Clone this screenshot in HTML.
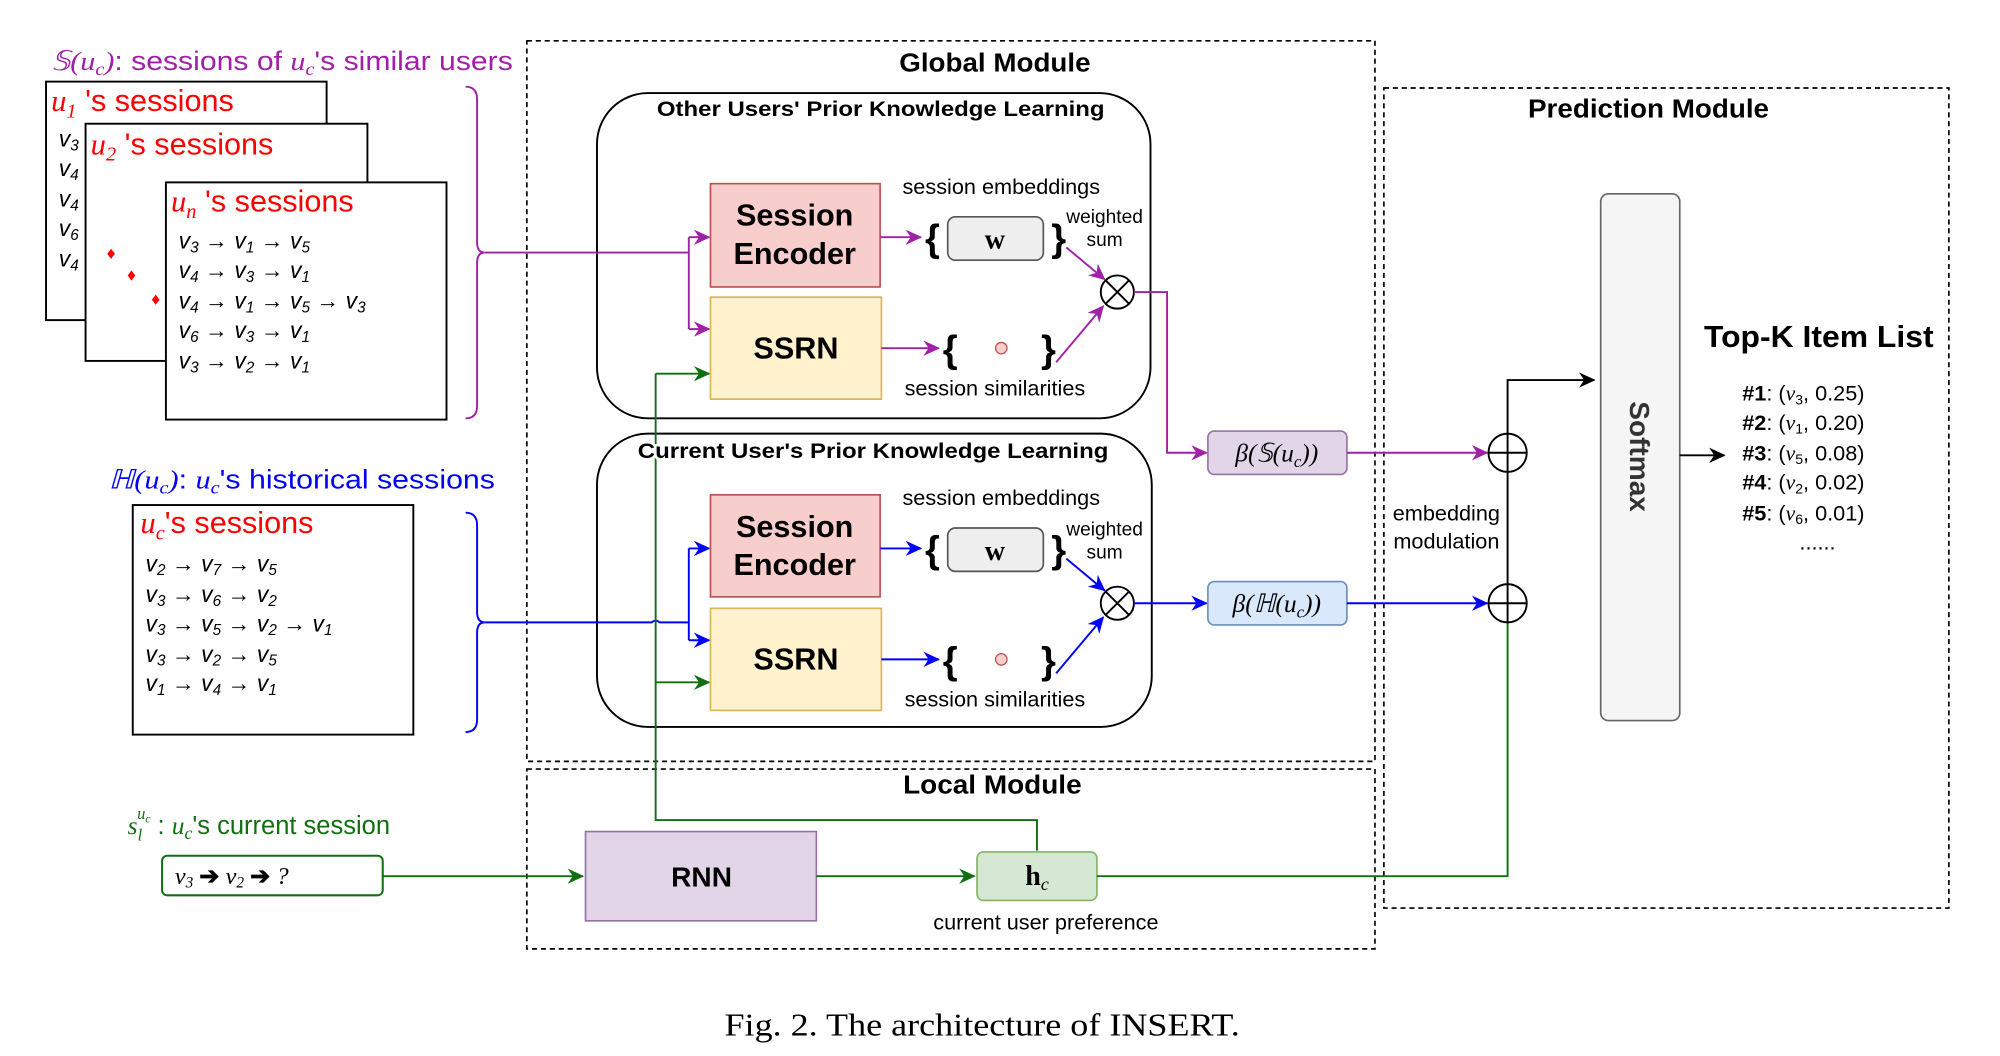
<!DOCTYPE html>
<html><head><meta charset="utf-8"><style>
html,body{margin:0;padding:0;background:#fff;}
svg{display:block;}
text{font-family:"Liberation Sans",sans-serif;}
.m{font-family:"Liberation Serif",serif;font-style:italic;}
.b{font-weight:bold;}
</style></head><body>
<svg width="2000" height="1056" viewBox="0 0 1568 828" xmlns="http://www.w3.org/2000/svg">
<defs>
<marker id="ap" markerWidth="13" markerHeight="12" refX="12" refY="6" orient="auto" markerUnits="userSpaceOnUse"><path d="M0,0 L13,6 L0,12 L4,6 z" fill="#a020a8"/></marker>
<marker id="ab" markerWidth="13" markerHeight="12" refX="12" refY="6" orient="auto" markerUnits="userSpaceOnUse"><path d="M0,0 L13,6 L0,12 L4,6 z" fill="#0000ff"/></marker>
<marker id="ag" markerWidth="13" markerHeight="12" refX="12" refY="6" orient="auto" markerUnits="userSpaceOnUse"><path d="M0,0 L13,6 L0,12 L4,6 z" fill="#107010"/></marker>
<marker id="ak" markerWidth="13" markerHeight="12" refX="12" refY="6" orient="auto" markerUnits="userSpaceOnUse"><path d="M0,0 L13,6 L0,12 L4,6 z" fill="#000"/></marker>
</defs>

<rect x="413" y="32" width="665" height="565" fill="none" stroke="#000" stroke-width="1.3" stroke-dasharray="4,3"/>
<rect x="413" y="603" width="665" height="141" fill="none" stroke="#000" stroke-width="1.3" stroke-dasharray="4,3"/>
<rect x="1085" y="69" width="443" height="643" fill="none" stroke="#000" stroke-width="1.3" stroke-dasharray="4,3"/>
<text x="705" y="56" font-size="20" class="b" textLength="150" lengthAdjust="spacingAndGlyphs">Global Module</text>
<text x="708" y="622" font-size="20" class="b" textLength="140" lengthAdjust="spacingAndGlyphs">Local Module</text>
<text x="1198" y="92" font-size="20" class="b" textLength="189" lengthAdjust="spacingAndGlyphs">Prediction Module</text>

<text x="40" y="55" font-size="21" fill="#a020a8" textLength="362" lengthAdjust="spacingAndGlyphs"><tspan class="m">𝕊(u<tspan font-size="14" dy="4">c</tspan><tspan dy="-4">)</tspan></tspan>: sessions of <tspan class="m">u<tspan font-size="14" dy="4">c</tspan></tspan><tspan dy="-4">'s similar users</tspan></text>
<rect x="36" y="64" width="220" height="187" fill="#fff" stroke="#000" stroke-width="1.5"/>
<text x="40" y="87" font-size="24" fill="#ff0000"><tspan class="m">u<tspan font-size="16" dy="5">1</tspan></tspan><tspan dy="-5"> 's sessions</tspan></text>
<g class="m" font-size="18"><text x="46" y="115">v<tspan font-size="12" dy="3">3</tspan></text><text x="46" y="138">v<tspan font-size="12" dy="3">4</tspan></text><text x="46" y="162">v<tspan font-size="12" dy="3">4</tspan></text><text x="46" y="185">v<tspan font-size="12" dy="3">6</tspan></text><text x="46" y="209">v<tspan font-size="12" dy="3">4</tspan></text></g>
<rect x="67" y="97" width="221" height="186" fill="#fff" stroke="#000" stroke-width="1.5"/>
<text x="71" y="121" font-size="24" fill="#ff0000"><tspan class="m">u<tspan font-size="16" dy="5">2</tspan></tspan><tspan dy="-5"> 's sessions</tspan></text>
<g fill="#ff0000"><path d="M87,195 l3,4 l-3,4 l-3,-4z"/><path d="M103,212 l3,4 l-3,4 l-3,-4z"/><path d="M122,231 l3,4 l-3,4 l-3,-4z"/></g>
<rect x="130" y="143" width="220" height="186" fill="#fff" stroke="#000" stroke-width="1.5"/>
<text x="134" y="166" font-size="24" fill="#ff0000"><tspan class="m">u<tspan font-size="16" dy="5">n</tspan></tspan><tspan dy="-5"> 's sessions</tspan></text>
<g class="m" font-size="18">
<text x="140" y="195">v<tspan font-size="12" dy="3">3</tspan><tspan dy="-3"> → v</tspan><tspan font-size="12" dy="3">1</tspan><tspan dy="-3"> → v</tspan><tspan font-size="12" dy="3">5</tspan></text>
<text x="140" y="218">v<tspan font-size="12" dy="3">4</tspan><tspan dy="-3"> → v</tspan><tspan font-size="12" dy="3">3</tspan><tspan dy="-3"> → v</tspan><tspan font-size="12" dy="3">1</tspan></text>
<text x="140" y="242">v<tspan font-size="12" dy="3">4</tspan><tspan dy="-3"> → v</tspan><tspan font-size="12" dy="3">1</tspan><tspan dy="-3"> → v</tspan><tspan font-size="12" dy="3">5</tspan><tspan dy="-3"> → v</tspan><tspan font-size="12" dy="3">3</tspan></text>
<text x="140" y="265">v<tspan font-size="12" dy="3">6</tspan><tspan dy="-3"> → v</tspan><tspan font-size="12" dy="3">3</tspan><tspan dy="-3"> → v</tspan><tspan font-size="12" dy="3">1</tspan></text>
<text x="140" y="289">v<tspan font-size="12" dy="3">3</tspan><tspan dy="-3"> → v</tspan><tspan font-size="12" dy="3">2</tspan><tspan dy="-3"> → v</tspan><tspan font-size="12" dy="3">1</tspan></text>
</g>
<path d="M365,68 Q374,68 374,78 L374,190 Q374,198 380,198 Q374,198 374,206 L374,318 Q374,328 365,328" fill="none" stroke="#a020a8" stroke-width="1.5"/>

<text x="85" y="383" font-size="21" fill="#0000ff" textLength="303" lengthAdjust="spacingAndGlyphs"><tspan class="m">ℍ(u<tspan font-size="14" dy="4">c</tspan><tspan dy="-4">)</tspan></tspan>: <tspan class="m">u<tspan font-size="14" dy="4">c</tspan></tspan><tspan dy="-4">'s historical sessions</tspan></text>
<rect x="104" y="396" width="220" height="180" fill="#fff" stroke="#000" stroke-width="1.5"/>
<text x="110" y="418" font-size="24" fill="#ff0000"><tspan class="m">u<tspan font-size="16" dy="5">c</tspan></tspan><tspan dy="-5">'s sessions</tspan></text>
<g class="m" font-size="18">
<text x="114" y="448">v<tspan font-size="12" dy="3">2</tspan><tspan dy="-3"> → v</tspan><tspan font-size="12" dy="3">7</tspan><tspan dy="-3"> → v</tspan><tspan font-size="12" dy="3">5</tspan></text>
<text x="114" y="472">v<tspan font-size="12" dy="3">3</tspan><tspan dy="-3"> → v</tspan><tspan font-size="12" dy="3">6</tspan><tspan dy="-3"> → v</tspan><tspan font-size="12" dy="3">2</tspan></text>
<text x="114" y="495">v<tspan font-size="12" dy="3">3</tspan><tspan dy="-3"> → v</tspan><tspan font-size="12" dy="3">5</tspan><tspan dy="-3"> → v</tspan><tspan font-size="12" dy="3">2</tspan><tspan dy="-3"> → v</tspan><tspan font-size="12" dy="3">1</tspan></text>
<text x="114" y="519">v<tspan font-size="12" dy="3">3</tspan><tspan dy="-3"> → v</tspan><tspan font-size="12" dy="3">2</tspan><tspan dy="-3"> → v</tspan><tspan font-size="12" dy="3">5</tspan></text>
<text x="114" y="542">v<tspan font-size="12" dy="3">1</tspan><tspan dy="-3"> → v</tspan><tspan font-size="12" dy="3">4</tspan><tspan dy="-3"> → v</tspan><tspan font-size="12" dy="3">1</tspan></text>
</g>
<path d="M365,402 Q374,402 374,412 L374,480 Q374,488 380,488 Q374,488 374,496 L374,564 Q374,574 365,574" fill="none" stroke="#0000ff" stroke-width="1.5"/>

<rect x="468" y="73" width="434" height="255" rx="40" fill="none" stroke="#000" stroke-width="1.5"/>
<text x="515" y="91" font-size="17" class="b" textLength="351" lengthAdjust="spacingAndGlyphs">Other Users' Prior Knowledge Learning</text>
<rect x="468" y="340" width="435" height="230" rx="40" fill="none" stroke="#000" stroke-width="1.5"/>

<path d="M380,198 L540,198 M540,186 L540,258" fill="none" stroke="#a020a8" stroke-width="1.5"/>
<path d="M540,186 L556,186" stroke="#a020a8" stroke-width="1.5" marker-end="url(#ap)"/>
<path d="M540,258 L556,258" stroke="#a020a8" stroke-width="1.5" marker-end="url(#ap)"/>

<path d="M380,488 L511,488 A4,4 0 0 1 517,488 L540,488 M540,430 L540,502" fill="none" stroke="#0000ff" stroke-width="1.5"/>
<path d="M540,430 L556,430" stroke="#0000ff" stroke-width="1.5" marker-end="url(#ab)"/>
<path d="M540,502 L556,502" stroke="#0000ff" stroke-width="1.5" marker-end="url(#ab)"/>

<path d="M813,667 L813,643 L514,643 L514,293" fill="none" stroke="#107010" stroke-width="1.5"/>
<path d="M514,293 L556,293" stroke="#107010" stroke-width="1.5" marker-end="url(#ag)"/>
<path d="M514,535 L556,535" stroke="#107010" stroke-width="1.5" marker-end="url(#ag)"/>

<text x="500" y="359" font-size="17" class="b" fill="#000" stroke="#fff" stroke-width="4" paint-order="stroke" textLength="369" lengthAdjust="spacingAndGlyphs">Current User's Prior Knowledge Learning</text>

<rect x="557" y="144" width="133" height="81" fill="#f8cecc" stroke="#b85450" stroke-width="1.3"/>
<text x="623" y="177" font-size="24" class="b" text-anchor="middle">Session</text>
<text x="623" y="207" font-size="24" class="b" text-anchor="middle">Encoder</text>
<rect x="557" y="233" width="134" height="80" fill="#fff2cc" stroke="#d6b656" stroke-width="1.3"/>
<text x="624" y="281" font-size="24" class="b" text-anchor="middle">SSRN</text>
<text x="785" y="152" font-size="17" text-anchor="middle">session embeddings</text>
<path d="M690,186 L722,186" stroke="#a020a8" stroke-width="1.5" marker-end="url(#ap)"/>
<text x="731" y="197" font-size="30" class="b" text-anchor="middle">{</text>
<rect x="743" y="170" width="75" height="34" rx="6" fill="#eeeeee" stroke="#555" stroke-width="1.3"/>
<text x="780" y="195" font-size="22" class="b" text-anchor="middle" style="font-family:'Liberation Serif',serif">w</text>
<text x="830" y="197" font-size="30" class="b" text-anchor="middle">}</text>
<text x="866" y="175" font-size="15" text-anchor="middle">weighted</text>
<text x="866" y="193" font-size="15" text-anchor="middle">sum</text>
<path d="M836,194 L866,219" stroke="#a020a8" stroke-width="1.5" marker-end="url(#ap)"/>
<path d="M691,273 L736,273" stroke="#a020a8" stroke-width="1.5" marker-end="url(#ap)"/>
<text x="745" y="284" font-size="30" class="b" text-anchor="middle">{</text>
<circle cx="785" cy="273" r="4.5" fill="#f8cecc" stroke="#b85450"/>
<text x="822" y="284" font-size="30" class="b" text-anchor="middle">}</text>
<path d="M828,284 L865,240" stroke="#a020a8" stroke-width="1.5" marker-end="url(#ap)"/>
<text x="780" y="310" font-size="17" text-anchor="middle">session similarities</text>
<circle cx="876" cy="229" r="13" fill="#fff" stroke="#000" stroke-width="1.5"/>
<path d="M867,220 L885,238 M885,220 L867,238" stroke="#000" stroke-width="1.5"/>
<path d="M889,229 L915,229 L915,355 L946,355" fill="none" stroke="#a020a8" stroke-width="1.5" marker-end="url(#ap)"/>
<rect x="947" y="338" width="109" height="34" rx="5" fill="#e1d5e7" stroke="#9673a6" stroke-width="1.3"/>
<text x="1001" y="362" font-size="20" class="m" text-anchor="middle">β(𝕊(u<tspan font-size="13" dy="4">c</tspan><tspan dy="-4">))</tspan></text>
<path d="M1056,355 L1166,355" stroke="#a020a8" stroke-width="1.5" marker-end="url(#ap)"/>

<rect x="557" y="388" width="133" height="80" fill="#f8cecc" stroke="#b85450" stroke-width="1.3"/>
<text x="623" y="421" font-size="24" class="b" text-anchor="middle">Session</text>
<text x="623" y="451" font-size="24" class="b" text-anchor="middle">Encoder</text>
<rect x="557" y="477" width="134" height="80" fill="#fff2cc" stroke="#d6b656" stroke-width="1.3"/>
<text x="624" y="525" font-size="24" class="b" text-anchor="middle">SSRN</text>
<text x="785" y="396" font-size="17" text-anchor="middle">session embeddings</text>
<path d="M690,430 L722,430" stroke="#0000ff" stroke-width="1.5" marker-end="url(#ab)"/>
<text x="731" y="441" font-size="30" class="b" text-anchor="middle">{</text>
<rect x="743" y="414" width="75" height="34" rx="6" fill="#eeeeee" stroke="#555" stroke-width="1.3"/>
<text x="780" y="439" font-size="22" class="b" text-anchor="middle" style="font-family:'Liberation Serif',serif">w</text>
<text x="830" y="441" font-size="30" class="b" text-anchor="middle">}</text>
<text x="866" y="420" font-size="15" text-anchor="middle">weighted</text>
<text x="866" y="438" font-size="15" text-anchor="middle">sum</text>
<path d="M836,438 L866,463" stroke="#0000ff" stroke-width="1.5" marker-end="url(#ab)"/>
<path d="M691,517 L736,517" stroke="#0000ff" stroke-width="1.5" marker-end="url(#ab)"/>
<text x="745" y="528" font-size="30" class="b" text-anchor="middle">{</text>
<circle cx="785" cy="517" r="4.5" fill="#f8cecc" stroke="#b85450"/>
<text x="822" y="528" font-size="30" class="b" text-anchor="middle">}</text>
<path d="M828,528 L865,484" stroke="#0000ff" stroke-width="1.5" marker-end="url(#ab)"/>
<text x="780" y="554" font-size="17" text-anchor="middle">session similarities</text>
<circle cx="876" cy="473" r="13" fill="#fff" stroke="#000" stroke-width="1.5"/>
<path d="M867,464 L885,482 M885,464 L867,482" stroke="#000" stroke-width="1.5"/>
<path d="M889,473 L946,473" stroke="#0000ff" stroke-width="1.5" marker-end="url(#ab)"/>
<rect x="947" y="456" width="109" height="34" rx="5" fill="#dae8fc" stroke="#6c8ebf" stroke-width="1.3"/>
<text x="1001" y="480" font-size="20" class="m" text-anchor="middle">β(ℍ(u<tspan font-size="13" dy="4">c</tspan><tspan dy="-4">))</tspan></text>
<path d="M1056,473 L1166,473" stroke="#0000ff" stroke-width="1.5" marker-end="url(#ab)"/>

<text x="100" y="654" font-size="20" fill="#107010"><tspan class="m">s<tspan font-size="13" dy="5">l</tspan><tspan font-size="13" dx="-4" dy="-17">u</tspan><tspan font-size="9" dy="3">c</tspan></tspan><tspan dy="9"> : </tspan><tspan class="m">u<tspan font-size="14" dy="4">c</tspan></tspan><tspan dy="-4">'s current session</tspan></text>
<rect x="127" y="671" width="173" height="31" rx="4" fill="#fff" stroke="#107010" stroke-width="1.6"/>
<text x="137" y="693" font-size="19" class="m">v<tspan font-size="12" dy="3">3</tspan><tspan dy="-3" font-style="normal" class="b"> ➔ </tspan>v<tspan font-size="12" dy="3">2</tspan><tspan dy="-3" font-style="normal" class="b"> ➔ </tspan>?</text>
<path d="M300,687 L457,687" stroke="#107010" stroke-width="1.5" marker-end="url(#ag)"/>
<rect x="459" y="652" width="181" height="70" fill="#e1d5e7" stroke="#9673a6" stroke-width="1.3"/>
<text x="550" y="695" font-size="22" class="b" text-anchor="middle">RNN</text>
<path d="M640,687 L764,687" stroke="#107010" stroke-width="1.5" marker-end="url(#ag)"/>
<rect x="766" y="668" width="94" height="38" rx="5" fill="#d5e8d4" stroke="#82b366" stroke-width="1.3"/>
<text x="813" y="694" font-size="22" class="b" text-anchor="middle" style="font-family:'Liberation Serif',serif">h<tspan font-size="14" font-style="italic" font-weight="normal" dy="4">c</tspan></text>
<text x="820" y="729" font-size="17" text-anchor="middle">current user preference</text>
<path d="M860,687 L1182,687 L1182,488" fill="none" stroke="#107010" stroke-width="1.5"/>

<circle cx="1182" cy="355" r="15" fill="#fff" stroke="#000" stroke-width="1.5"/>
<path d="M1167,355 L1197,355 M1182,340 L1182,370" stroke="#000" stroke-width="1.5"/>
<circle cx="1182" cy="473" r="15" fill="#fff" stroke="#000" stroke-width="1.5"/>
<path d="M1167,473 L1197,473 M1182,458 L1182,488" stroke="#000" stroke-width="1.5"/>
<path d="M1182,458 L1182,370 M1182,340 L1182,298 L1250,298" fill="none" stroke="#000" stroke-width="1.5" marker-end="url(#ak)"/>
<rect x="1087" y="392" width="93" height="42" fill="#fff"/>
<text x="1134" y="408" font-size="17" text-anchor="middle">embedding</text>
<text x="1134" y="430" font-size="17" text-anchor="middle">modulation</text>
<rect x="1255" y="152" width="62" height="413" rx="6" fill="#f5f5f5" stroke="#666" stroke-width="1.3"/>
<text x="0" y="0" font-size="22" class="b" fill="#333" text-anchor="middle" transform="translate(1278,358) rotate(90)">Softmax</text>
<path d="M1317,357 L1352,357" stroke="#000" stroke-width="1.5" marker-end="url(#ak)"/>
<text x="1336" y="272" font-size="24" class="b" textLength="180" lengthAdjust="spacingAndGlyphs">Top-K Item List</text>
<g font-size="17">
<text x="1366" y="314"><tspan class="b">#1</tspan>: (<tspan class="m">v</tspan><tspan font-size="11" dy="3">3</tspan><tspan dy="-3">, 0.25)</tspan></text>
<text x="1366" y="337"><tspan class="b">#2</tspan>: (<tspan class="m">v</tspan><tspan font-size="11" dy="3">1</tspan><tspan dy="-3">, 0.20)</tspan></text>
<text x="1366" y="361"><tspan class="b">#3</tspan>: (<tspan class="m">v</tspan><tspan font-size="11" dy="3">5</tspan><tspan dy="-3">, 0.08)</tspan></text>
<text x="1366" y="384"><tspan class="b">#4</tspan>: (<tspan class="m">v</tspan><tspan font-size="11" dy="3">2</tspan><tspan dy="-3">, 0.02)</tspan></text>
<text x="1366" y="408"><tspan class="b">#5</tspan>: (<tspan class="m">v</tspan><tspan font-size="11" dy="3">6</tspan><tspan dy="-3">, 0.01)</tspan></text>
<text x="1425" y="431" text-anchor="middle">......</text>
</g>

<text x="568" y="812" font-size="25" style="font-family:'Liberation Serif',serif" textLength="404" lengthAdjust="spacingAndGlyphs">Fig. 2.  The architecture of INSERT.</text>
</svg>
</body></html>
